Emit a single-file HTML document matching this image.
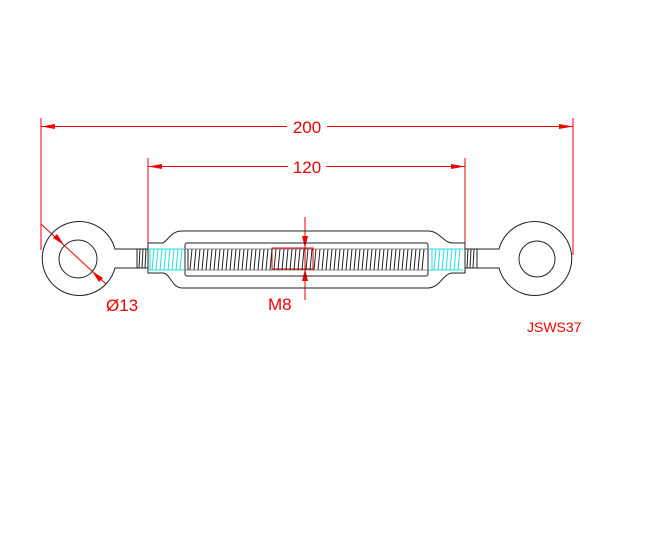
<!DOCTYPE html>
<html><head><style>body{margin:0;background:#fff}svg{display:block}</style></head><body>
<svg width="657" height="534" viewBox="0 0 657 534" xmlns="http://www.w3.org/2000/svg">
<rect width="657" height="534" fill="#fff"/>
<g stroke="#e00" stroke-width="1" fill="none">
<line x1="41" y1="118" x2="41" y2="250"/>
<line x1="573" y1="118" x2="573" y2="255"/>
<line x1="41" y1="126.5" x2="287" y2="126.5"/>
<line x1="327" y1="126.5" x2="573" y2="126.5"/>
<line x1="148" y1="158" x2="148" y2="245"/>
<line x1="465" y1="158" x2="465" y2="245"/>
<line x1="148" y1="166.5" x2="288" y2="166.5"/>
<line x1="326" y1="166.5" x2="465" y2="166.5"/>
<line x1="305" y1="217" x2="305" y2="300"/>
<rect x="272" y="248" width="41" height="21"/>
<line x1="41" y1="224" x2="106" y2="284"/>
</g>
<g fill="#e00">
<path d="M41,126.5 L55,124 L55,129z"/><path d="M573,126.5 L559,124 L559,129z"/>
<path d="M148,166.5 L162,164 L162,169z"/><path d="M465,166.5 L451,164 L451,169z"/>
<path d="M305,248 L302,236 L308,236z"/><path d="M305,269 L302,281 L308,281z"/>
<path d="M64,245 L53,238 L57,234z"/><path d="M92,271 L103,278 L99,282z"/>
</g>
<g fill="#e00" font-family="Liberation Sans, sans-serif" font-size="17">
<text x="307" y="133" text-anchor="middle">200</text>
<text x="307" y="173" text-anchor="middle">120</text>
<text x="106" y="311">Ø13</text>
<text x="268" y="310">M8</text>
<text x="527" y="332" font-size="14">JSWS37</text>
</g>
<g stroke="#222" stroke-width="1" fill="none">
<path d="M115,249 A37,37 0 1 0 115,268 L137,268 L137,249 Z"/>
<circle cx="78" cy="259" r="19"/>
<path d="M499,249 A37,37 0 1 1 499,268 L477,268 L477,249 Z"/>
<circle cx="537" cy="259" r="18"/>
<path d="M148,243 L163,243 C170,238 172,231 182,231 L428,231 C440,231 443,243 453,243 L465,243 L465,273 L453,273 C443,273 440,288 428,288 L182,288 C172,288 170,273 163,273 L148,273 Z"/>
<rect x="185" y="243" width="243" height="33" rx="2"/>
<rect x="137" y="249" width="11" height="19"/>
<rect x="465" y="249" width="12" height="19"/>
</g>
<g stroke="#222" stroke-width="1">
<path d="M188,249 L188,270 M192,249 L190,270 M196,249 L194,270 M200,249 L198,270 M204,249 L202,270 M208,249 L206,270 M212,249 L210,270 M216,249 L214,270 M220,249 L218,270 M224,249 L222,270 M228,249 L226,270 M232,249 L230,270 M236,249 L234,270 M240,249 L238,270 M244,249 L242,270 M248,249 L246,270 M252,249 L250,270 M256,249 L254,270 M260,249 L258,270 M264,249 L262,270 M268,249 L266,270 M272,249 L270,270 M276,249 L274,270 M280,249 L278,270 M284,249 L282,270 M288,249 L286,270 M292,249 L290,270 M296,249 L294,270 M300,249 L298,270 M304,249 L302,270 M308,249 L306,270 M312,249 L310,270 M316,249 L314,270 M320,249 L318,270 M324,249 L322,270 M328,249 L326,270 M332,249 L330,270 M336,249 L334,270 M340,249 L338,270 M344,249 L342,270 M348,249 L346,270 M352,249 L350,270 M356,249 L354,270 M360,249 L358,270 M364,249 L362,270 M368,249 L366,270 M372,249 L370,270 M376,249 L374,270 M380,249 L378,270 M384,249 L382,270 M388,249 L386,270 M392,249 L390,270 M396,249 L394,270 M400,249 L398,270 M404,249 L402,270 M408,249 L406,270 M412,249 L410,270 M416,249 L414,270 M420,249 L418,270 M424,249 L422,270"/>
<path d="M185,249 L428,249 M185,270 L428,270" stroke-width="0.6"/>
<path d="M140,249 L139,268 M143,249 L142,268 M146,249 L145,268 M468,249 L467,268 M471,249 L470,268 M474,249 L473,268"/>
</g>
<g stroke="#2dd" stroke-width="1">
<path d="M150,249 L150,270 M154,249 L152,270 M158,249 L156,270 M162,249 L160,270 M166,249 L164,270 M170,249 L168,270 M174,249 L172,270 M178,249 L176,270 M182,249 L180,270 M148,249 L185,249 M148,270 L185,270"/>
<path d="M432,249 L432,270 M436,249 L434,270 M440,249 L438,270 M444,249 L442,270 M448,249 L446,270 M452,249 L450,270 M456,249 L454,270 M460,249 L458,270 M428,249 L463,249 M428,270 L463,270"/>
</g>
</svg>
</body></html>
